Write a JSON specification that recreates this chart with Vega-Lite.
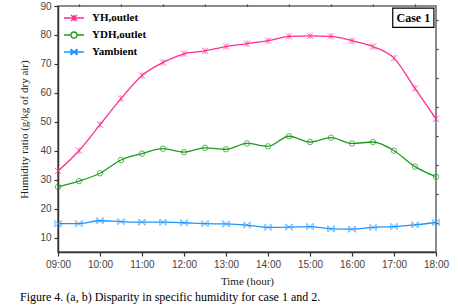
{
  "$schema": "https://vega.github.io/schema/vega-lite/v6.json",
  "width": 378,
  "height": 246,
  "autosize": {"type": "none"},
  "padding": {"left": 58, "top": 6, "right": 22, "bottom": 56},
  "background": "white",
  "config": {
    "view": {"stroke": "#666", "strokeWidth": 1.5},
    "axis": {"labelFont": "Liberation Sans", "labelFontSize": 10, "labelColor": "#444", "labelOverlap": false, "labelFlush": false, "titleFont": "Liberation Serif", "titleFontWeight": "normal", "titleFontSize": 11, "titleColor": "#222", "domainColor": "#333", "domainWidth": 1.5, "tickColor": "#333", "tickSize": 4, "tickWidth": 1.2, "grid": false}
  },
  "title": {
    "text": "Figure 4. (a, b) Disparity in specific humidity for case 1 and 2.",
    "orient": "bottom",
    "anchor": "start",
    "frame": "group",
    "font": "Liberation Serif",
    "fontSize": 12,
    "fontWeight": "normal",
    "color": "#000",
    "dx": -38,
    "offset": 6
  },
  "resolve": {"axis": {"x": "independent", "y": "independent"}},
  "data": {
    "values": [
      {"time": 9, "series": "H", "value": 33},
      {"time": 9.5, "series": "H", "value": 40},
      {"time": 10, "series": "H", "value": 49},
      {"time": 10.5, "series": "H", "value": 58},
      {"time": 11, "series": "H", "value": 66},
      {"time": 11.5, "series": "H", "value": 70.5},
      {"time": 12, "series": "H", "value": 73.5},
      {"time": 12.5, "series": "H", "value": 74.5},
      {"time": 13, "series": "H", "value": 76},
      {"time": 13.5, "series": "H", "value": 77},
      {"time": 14, "series": "H", "value": 78},
      {"time": 14.5, "series": "H", "value": 79.5},
      {"time": 15, "series": "H", "value": 79.7},
      {"time": 15.5, "series": "H", "value": 79.5},
      {"time": 16, "series": "H", "value": 78},
      {"time": 16.5, "series": "H", "value": 76},
      {"time": 17, "series": "H", "value": 72},
      {"time": 17.5, "series": "H", "value": 61.5},
      {"time": 18, "series": "H", "value": 51},
      {"time": 9, "series": "DH", "value": 27.5},
      {"time": 9.5, "series": "DH", "value": 29.5},
      {"time": 10, "series": "DH", "value": 32.2},
      {"time": 10.5, "series": "DH", "value": 36.8},
      {"time": 11, "series": "DH", "value": 39},
      {"time": 11.5, "series": "DH", "value": 40.7},
      {"time": 12, "series": "DH", "value": 39.5},
      {"time": 12.5, "series": "DH", "value": 41},
      {"time": 13, "series": "DH", "value": 40.5},
      {"time": 13.5, "series": "DH", "value": 42.5},
      {"time": 14, "series": "DH", "value": 41.5},
      {"time": 14.5, "series": "DH", "value": 45},
      {"time": 15, "series": "DH", "value": 43},
      {"time": 15.5, "series": "DH", "value": 44.5},
      {"time": 16, "series": "DH", "value": 42.5},
      {"time": 16.5, "series": "DH", "value": 43},
      {"time": 17, "series": "DH", "value": 40},
      {"time": 17.5, "series": "DH", "value": 34.5},
      {"time": 18, "series": "DH", "value": 31},
      {"time": 9, "series": "A", "value": 14.8},
      {"time": 9.5, "series": "A", "value": 14.8},
      {"time": 10, "series": "A", "value": 15.8},
      {"time": 10.5, "series": "A", "value": 15.5},
      {"time": 11, "series": "A", "value": 15.3},
      {"time": 11.5, "series": "A", "value": 15.3},
      {"time": 12, "series": "A", "value": 15.1},
      {"time": 12.5, "series": "A", "value": 14.8},
      {"time": 13, "series": "A", "value": 14.7},
      {"time": 13.5, "series": "A", "value": 14.3},
      {"time": 14, "series": "A", "value": 13.5},
      {"time": 14.5, "series": "A", "value": 13.6},
      {"time": 15, "series": "A", "value": 13.8},
      {"time": 15.5, "series": "A", "value": 13},
      {"time": 16, "series": "A", "value": 12.9},
      {"time": 16.5, "series": "A", "value": 13.5},
      {"time": 17, "series": "A", "value": 13.8},
      {"time": 17.5, "series": "A", "value": 14.4},
      {"time": 18, "series": "A", "value": 15.2}
    ]
  },
  "layer": [
    {
      "mark": {"type": "line", "interpolate": "monotone", "strokeWidth": 1.3},
      "encoding": {
        "x": {"field": "time", "type": "quantitative", "scale": {"domain": [9, 18], "nice": false}, "axis": {"values": [9, 10, 11, 12, 13, 14, 15, 16, 17, 18], "labelExpr": "(datum.value < 10 ? '0' : '') + datum.value + ':00'", "title": "Time (hour)", "titlePadding": 6, "labelPadding": 3, "labelFlush": false}},
        "y": {"field": "value", "type": "quantitative", "scale": {"domain": [5, 90], "nice": false}, "axis": {"values": [10, 20, 30, 40, 50, 60, 70, 80, 90], "title": "Humidity ratio (g/kg of dry air)", "titlePadding": 10, "labelPadding": 3, "labelOverlap": false, "labelFlush": false}},
        "color": {
          "field": "series", "type": "nominal",
          "scale": {"domain": ["H", "DH", "A"], "range": ["#ff2d95", "#1f9a1f", "#1e96ff"]},
          "legend": {
            "orient": "none", "legendX": 5, "legendY": 1, "title": null, "padding": 0,
            "labelExpr": "datum.value == 'H' ? 'YH,outlet' : datum.value == 'DH' ? 'YDH,outlet' : 'Yambient'",
            "labelFont": "Liberation Serif", "labelFontWeight": "bold", "labelFontSize": 11, "labelColor": "#000",
            "symbolSize": 400, "symbolStrokeWidth": 1.3, "symbolFillColor": "transparent",
            "rowPadding": -5, "labelOffset": 7,
            "encode": {"symbols": {"update": {"shape": {"signal": "datum.value == 'H' ? 'M-1,0L1,0M-0.3,-0.3L0.3,0.3M-0.3,0.3L0.3,-0.3M0,-0.3L0,0.3' : datum.value == 'DH' ? 'M-1,0L-0.3,0M0.3,0L1,0M0.3,0A0.3,0.3,0,1,1,-0.3,0A0.3,0.3,0,1,1,0.3,0' : 'M-1,0L1,0M-0.3,-0.3L0.3,0.3M-0.3,0.3L0.3,-0.3M-0.3,-0.3L-0.3,0.3M0.3,-0.3L0.3,0.3'"}, "fill": {"value": "transparent"}}}}
          }
        }
      }
    },
    {
      "transform": [{"filter": "datum.series == 'H'"}],
      "mark": {"type": "point", "filled": false, "size": 40, "strokeWidth": 1, "color": "#ff2d95", "shape": "M-1,-1L1,1M-1,1L1,-1M0,-1L0,1"},
      "encoding": {
        "x": {"field": "time", "type": "quantitative", "axis": {"values": [9.5, 10.5, 11.5, 12.5, 13.5, 14.5, 15.5, 16.5, 17.5], "labels": false, "domain": false, "title": null, "tickSize": 2}},
        "y": {"field": "value", "type": "quantitative", "axis": {"values": [15, 25, 35, 45, 55, 65, 75, 85], "labels": false, "domain": false, "title": null, "tickSize": 2}}
      }
    },
    {
      "transform": [{"filter": "datum.series == 'DH'"}],
      "mark": {"type": "point", "filled": false, "size": 30, "strokeWidth": 1, "color": "#1f9a1f", "shape": "circle"},
      "encoding": {
        "x": {"field": "time", "type": "quantitative", "axis": null},
        "y": {"field": "value", "type": "quantitative", "axis": null}
      }
    },
    {
      "transform": [{"filter": "datum.series == 'A'"}],
      "mark": {"type": "point", "filled": false, "size": 40, "strokeWidth": 1, "color": "#1e96ff", "shape": "M-1,-1L1,1M-1,1L1,-1M-1,-1L-1,1M1,-1L1,1"},
      "encoding": {
        "x": {"field": "time", "type": "quantitative", "axis": null},
        "y": {"field": "value", "type": "quantitative", "axis": null}
      }
    },
    {
      "data": {"values": [{"x1": 16.97, "x2": 17.95, "y1": 82.6, "y2": 89.3}]},
      "mark": {"type": "rect", "fill": "white", "stroke": "#000", "strokeWidth": 1.2},
      "encoding": {
        "x": {"field": "x1", "type": "quantitative", "axis": null},
        "x2": {"field": "x2"},
        "y": {"field": "y1", "type": "quantitative", "axis": null},
        "y2": {"field": "y2"}
      }
    },
    {
      "data": {"values": [{"x": 17.46, "y": 85.9, "label": "Case 1"}]},
      "mark": {"type": "text", "font": "Liberation Serif", "fontWeight": "bold", "fontSize": 12, "baseline": "middle", "align": "center", "color": "#000"},
      "encoding": {
        "x": {"field": "x", "type": "quantitative", "axis": null},
        "y": {"field": "y", "type": "quantitative", "axis": null},
        "text": {"field": "label"}
      }
    }
  ]
}
